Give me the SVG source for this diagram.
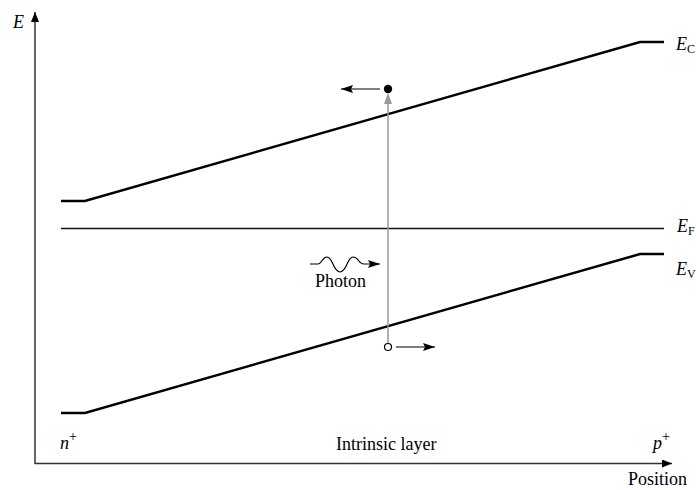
<svg xmlns="http://www.w3.org/2000/svg" width="696" height="490" viewBox="0 0 696 490">
<style>
text{font-family:"Liberation Serif","Times New Roman",serif;font-size:18px;fill:#000}
.it{font-style:italic}
.sub{font-size:12px;font-style:normal}
.sup{font-size:14px;font-style:normal}
.band{fill:none;stroke:#000;stroke-width:2.4}
.axis{fill:none;stroke:#333;stroke-width:1.5}
.thin{fill:none;stroke:#000;stroke-width:1.2}
</style>
<defs>
<marker id="ah" viewBox="0 0 10 8" refX="10" refY="4" markerWidth="10" markerHeight="8" markerUnits="userSpaceOnUse" orient="auto">
<path d="M0,0 L10,4 L0,8 Z" fill="#000"/>
</marker>
<marker id="ahs" viewBox="0 0 12 8" refX="12" refY="4" markerWidth="12" markerHeight="8" markerUnits="userSpaceOnUse" orient="auto">
<path d="M0,0 L12,4 L0,8 L2,4 Z" fill="#000"/>
</marker>
</defs>
<g id="axes">
<path class="axis" d="M35,464 L35,12" marker-end="url(#ah)"/>
<path class="axis" d="M35,463.5 L672,463.5" marker-end="url(#ah)"/>
<text class="it" x="13" y="28">E</text>
<text x="628" y="485">Position</text>
</g>
<g id="conduction-band">
<path class="band" d="M61,201 L85,201 L640,42 L664,42"/>
<text class="it" x="676" y="50">E<tspan class="sub" dy="3">C</tspan></text>
</g>
<g id="fermi-level">
<path d="M61,228.5 L664,228.5" fill="none" stroke="#111" stroke-width="1.4"/>
<text class="it" x="677" y="232">E<tspan class="sub" dy="3">F</tspan></text>
</g>
<g id="valence-band">
<path class="band" d="M61,413 L85,413 L640,254 L664,254"/>
<text class="it" x="676" y="275">E<tspan class="sub" dy="3">V</tspan></text>
</g>
<g id="connectors">
<path d="M388,343 L388,96" stroke="#999" stroke-width="1.5" fill="none"/>
<path d="M384,104 L388,93 L392,104 Z" fill="#999"/>
<path class="thin" d="M380,89 L341,89" marker-end="url(#ahs)"/>
<path class="thin" d="M396,347 L435,347" marker-end="url(#ahs)"/>
</g>
<g id="electron">
<circle cx="388" cy="89" r="4.2" fill="#000"/>
</g>
<g id="hole">
<circle cx="388" cy="347" r="3.5" fill="#fff" stroke="#000" stroke-width="1.2"/>
</g>
<g id="photon">
<path class="thin" d="M310,264 L318,264 C322,264 322,257 327,257 C333,257 333,272 340,272 C347,272 347,257 353,257 C359,257 358,264 364,264 L380,264" marker-end="url(#ahs)"/>
<text x="315" y="287">Photon</text>
</g>
<g id="region-labels">
<text class="it" x="60" y="449">n<tspan class="sup" dy="-8">+</tspan></text>
<text x="336" y="450">Intrinsic layer</text>
<text class="it" x="653" y="449">p<tspan class="sup" dy="-8">+</tspan></text>
</g>
</svg>
